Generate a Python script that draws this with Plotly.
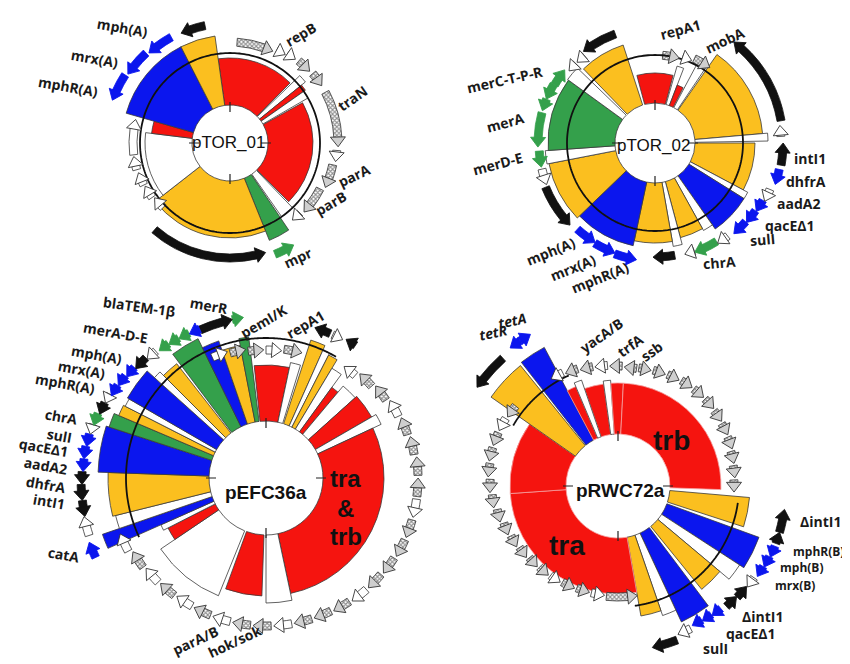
import numpy as np
import plotly.graph_objects as go

W, H = 850, 664

COLORS = {
    "r": "#f5140f",
    "y": "#fbbf1f",
    "b": "#0b16ee",
    "g": "#34a04b",
    "w": "#ffffff",
    "k": "#111111",
    "h": "#ffffff",
}

# wedges: (start deg, end deg, outer radius px, colour) clockwise from 12 o'clock
TOR01_WEDGES = [
    (-8, 45, 85, "r"), (46, 51, 97, "w"), (51, 55, 92, "r"), (55, 60, 90, "w"),
    (61, 135, 83, "r"), (136, 145, 90, "w"), (146, 158, 105, "g"),
    (158, 232, 95, "y"), (232, 277, 85, "w"), (277, 286, 79, "r"),
    (286, 333, 108, "b"), (333, 352, 108, "y"),
]
TOR02_WEDGES = [
    (-15, 15, 70, "r"), (16, 21, 80, "w"), (21, 27, 62, "r"), (28, 34, 90, "w"),
    (35, 85, 108, "y"), (85, 89, 113, "w"), (90, 118, 100, "y"), (118, 122, 105, "w"),
    (122, 145, 105, "b"), (145, 151, 100, "w"), (151, 165, 98, "y"), (165, 170, 105, "w"),
    (170, 192, 100, "y"), (192, 226, 105, "b"), (226, 259, 108, "y"), (259, 266, 110, "w"),
    (266, 306, 107, "g"), (306, 314, 108, "w"), (316, 342, 103, "y"),
]
EFC_WEDGES = [
    (-6, 12, 113, "r"), (12, 17, 118, "w"), (18, 24, 145, "y"), (24, 27, 140, "w"),
    (27, 31, 138, "y"), (31, 36, 128, "w"), (36, 40, 112, "r"), (40, 48, 120, "w"),
    (48, 60, 122, "r"), (60, 65, 127, "w"), (65, 168, 118, "r"), (168, 180, 125, "w"),
    (182, 200, 118, "r"), (202, 236, 127, "w"), (236, 243, 110, "r"), (243, 246, 115, "w"),
    (246, 251, 173, "b"), (251, 256, 155, "w"), (256, 272, 158, "y"), (272, 288, 168, "b"),
    (288, 293, 165, "g"), (293, 297, 160, "y"), (297, 300, 158, "w"), (300, 312, 160, "b"),
    (312, 315, 150, "w"), (315, 322, 145, "y"), (323, 334, 155, "g"), (334, 341, 145, "b"),
    (341, 349, 135, "y"), (349, 353, 142, "g"),
]
RWC_WEDGES = [
    (341, 352, 103, "r"), (352, 356, 106, "w"), (356, 363, 103, "r"), (3, 92, 103, "r"),
    (95, 108, 132, "y"), (110, 123, 150, "b"), (123, 130, 145, "w"), (130, 141, 133, "y"),
    (143, 155, 150, "b"), (155, 161, 137, "w"), (161, 170, 132, "y"), (170, 266, 108, "r"),
    (266, 305, 108, "r"), (305, 321, 155, "y"), (322, 332, 157, "b"), (332, 337, 108, "r"),
    (337, 341, 112, "w"),
]

# genes: (start deg, end deg, radius px, kind, direction +1 clockwise / -1 anticlockwise)
TOR01_GENES = [
    (4, 25, 101, "h", 1), (27, 32, 104, "w", 1), (33, 38, 106, "w", 1), (40, 48, 107, "h", 1),
    (50, 58, 108, "h", 1), (62, 92, 108, "h", 1), (94, 100, 107, "w", 1), (102, 115, 105, "h", 1),
    (117, 133, 101, "h", 1), (135, 141, 99, "w", 1), (148, 158, 120, "g", -1),
    (162, 221, 115, "k", -1), (226, 234, 93, "w", 1), (235, 243, 95, "w", 1),
    (244, 252, 96, "w", 1), (254, 262, 97, "w", 1), (263, 284, 97, "w", 1),
    (290, 303, 125, "b", -1), (304, 317, 123, "b", -1), (318, 331, 121, "b", -1),
    (336, 348, 120, "k", -1),
]
TOR02_GENES = [
    (5, 16, 88, "h", 1), (18, 24, 90, "w", 1), (25, 36, 93, "h", 1), (38, 80, 128, "k", -1),
    (82, 87, 126, "w", -1), (90, 100, 128, "k", -1), (102, 109, 127, "b", 1),
    (112, 118, 124, "w", 1), (118, 124, 122, "b", 1), (124, 131, 121, "b", 1),
    (131, 139, 120, "b", 1), (142, 148, 118, "w", 1), (148, 160, 116, "g", 1),
    (160, 165, 115, "w", 1), (170, 181, 114, "k", 1), (189, 200, 118, "b", -1),
    (200, 211, 117, "b", -1), (211, 222, 116, "b", -1), (226, 248, 118, "k", -1),
    (249, 257, 116, "w", -1), (258, 266, 116, "g", -1), (268, 285, 117, "g", -1),
    (286, 292, 117, "g", -1), (292, 300, 117, "g", -1), (300, 309, 116, "g", 1),
    (310, 315, 112, "w", -1), (316, 321, 112, "w", -1), (322, 340, 116, "k", -1),
]
EFC_GENES = [
    (-24, -17, 132, "w", 1), (-16, -9, 130, "h", 1), (-8, -1, 128, "h", 1), (0, 7, 128, "w", 1),
    (8, 16, 130, "h", 1), (18, 24, 158, "k", -1), (25, 29, 158, "w", 1), (30, 34, 160, "k", -1),
    (35, 41, 136, "w", -1), (42, 49, 140, "h", -1), (50, 57, 143, "h", -1), (58, 65, 146, "w", -1),
    (66, 73, 148, "h", -1), (74, 81, 150, "h", -1), (82, 89, 152, "h", -1), (90, 97, 152, "h", -1),
    (98, 105, 152, "w", 1), (106, 113, 152, "h", 1), (114, 121, 152, "h", 1),
    (122, 129, 151, "h", 1), (130, 137, 150, "h", 1), (138, 145, 150, "w", 1),
    (146, 153, 149, "h", 1), (154, 161, 148, "h", 1), (162, 169, 148, "h", 1),
    (170, 177, 148, "w", 1), (178, 185, 148, "h", 1), (186, 193, 148, "h", 1),
    (194, 201, 148, "w", 1), (202, 209, 148, "h", 1), (210, 217, 148, "w", 1),
    (218, 225, 149, "h", 1), (226, 233, 150, "w", 1), (234, 241, 152, "h", 1),
    (242, 249, 156, "w", 1),
    (245, 250, 188, "b", 1), (252, 258, 186, "w", 1), (258, 263, 185, "k", -1),
    (263, 268, 185, "k", -1), (268, 272, 184, "k", -1), (272, 276, 183, "b", -1),
    (276, 280, 183, "b", -1), (280, 284, 182, "b", -1), (284, 287, 181, "w", -1),
    (287, 291, 180, "g", -1), (291, 295, 178, "k", -1), (295, 298, 177, "w", -1),
    (298, 302, 175, "b", -1), (302, 306, 174, "b", -1), (306, 310, 172, "b", -1),
    (310, 315, 170, "k", -1), (315, 319, 168, "w", -1), (320, 324, 166, "g", -1),
    (324, 328, 165, "g", -1), (328, 332, 164, "g", -1), (332, 336, 163, "b", -1),
    (336, 348, 162, "k", 1), (348, 352, 162, "g", 1),
]
RWC_GENES = [
    (328, 334, 126, "w", -1), (335, 341, 124, "h", -1), (342, 348, 122, "h", -1),
    (349, 355, 121, "w", -1), (356, 362, 120, "h", -1), (3, 9, 119, "h", -1),
    (10, 16, 120, "h", 1), (17, 23, 121, "h", 1), (24, 30, 122, "h", 1), (31, 37, 123, "h", 1),
    (38, 44, 123, "h", 1), (45, 51, 123, "h", 1), (52, 58, 122, "h", 1), (59, 65, 121, "h", 1),
    (66, 72, 120, "h", 1), (73, 79, 118, "h", 1), (80, 86, 117, "h", 1), (87, 93, 116, "h", 1),
    (98, 106, 168, "k", -1), (106, 110, 168, "k", -1), (111, 115, 168, "b", 1),
    (115, 119, 167, "b", 1), (119, 123, 166, "b", 1), (124, 128, 164, "w", 1),
    (128, 133, 163, "k", -1), (133, 138, 162, "k", -1), (140, 144, 160, "b", 1),
    (144, 148, 159, "b", 1), (148, 152, 158, "b", 1), (153, 158, 160, "w", 1),
    (159, 168, 165, "k", 1),
    (170, 186, 111, "h", -1), (187, 194, 110, "w", -1), (195, 202, 110, "h", -1),
    (203, 210, 111, "h", -1), (211, 217, 112, "w", -1), (218, 224, 113, "h", -1),
    (225, 231, 114, "h", -1), (232, 238, 116, "h", -1), (239, 245, 118, "h", -1),
    (246, 252, 120, "h", -1), (253, 259, 123, "h", -1), (260, 266, 126, "h", -1),
    (267, 273, 128, "h", -1), (274, 280, 130, "h", -1), (281, 287, 131, "h", -1),
    (288, 294, 131, "h", -1), (295, 301, 131, "w", -1), (302, 308, 130, "h", -1),
    (305, 318, 172, "k", -1), (322, 326, 175, "b", -1), (326, 330, 175, "b", 1),
]

# centre px, hole radius, outer range, black ring radius, ring arcs (deg)
PLASMIDS = [
    dict(name="pTOR_01", center=(222, 135), hole=38, rmax=135, ring=90, arcs=[(0, 360)],
         wedges=TOR01_WEDGES, genes=TOR01_GENES, soft_red=False),
    dict(name="pTOR_02", center=(647, 135), hole=40, rmax=135, ring=88, arcs=[(0, 360)],
         wedges=TOR02_WEDGES, genes=TOR02_GENES, soft_red=False),
    dict(name="pEFC36a", center=(258, 470), hole=57, rmax=194, ring=140, arcs=[(245, 390)],
         wedges=EFC_WEDGES, genes=EFC_GENES, soft_red=False),
    dict(name="pRWC72a", center=(610, 478), hole=52, rmax=186, ring=121, arcs=[(98, 172), (300, 336)],
         wedges=RWC_WEDGES, genes=RWC_GENES, soft_red=True),
]

# labels: (text, x px, y px, angle, size)
GENE_LABELS = [
    ("mph(A)", 114, 19, 10, 14), ("mrx(A)", 87, 50, 10, 14), ("mphR(A)", 60, 78, 10, 14),
    ("repB", 292, 26, -30, 14), ("traN", 344, 90, -35, 14), ("parA", 346, 167, -25, 14),
    ("parB", 322, 195, -30, 14), ("mpr", 290, 249, -25, 14),
    ("repA1", 672, 22, -15, 14), ("mobA", 716, 32, -25, 14), ("merC-T-P-R", 497, 71, -13, 14),
    ("merA", 497, 114, -15, 14), ("merD-E", 490, 155, -15, 14), ("intI1", 802, 150, 0, 14),
    ("dhfrA", 798, 173, 0, 14), ("aadA2", 790, 195, 0, 14), ("qacEΔ1", 782, 217, 0, 14),
    ("sulI", 754, 231, -5, 14), ("chrA", 711, 254, -5, 14), ("mph(A)", 542, 243, -22, 14),
    ("mrx(A)", 565, 259, -22, 14), ("mphR(A)", 592, 270, -22, 14),
    ("blaTEM-1β", 131, 298, 8, 14), ("merR", 201, 297, 10, 14), ("pemI/K", 255, 313, -30, 14),
    ("repA1", 297, 317, -30, 14), ("merA-D-E", 107, 324, 10, 14), ("mph(A)", 88, 347, 10, 14),
    ("mrx(A)", 74, 361, 10, 14), ("mphR(A)", 57, 375, 10, 14), ("chrA", 53, 408, 10, 14),
    ("sulI", 51, 427, 10, 14), ("qacEΔ1", 36, 439, 10, 14), ("aadA2", 37, 457, 10, 14),
    ("dhfrA", 38, 476, 10, 14), ("intI1", 41, 493, 10, 14), ("catA", 56, 546, 10, 14),
    ("parA/B", 187, 632, -25, 14), ("hok/sok", 226, 633, -25, 14),
    ("<i>tetA</i>", 504, 312, -12, 14), ("<i>tetR</i>", 485, 324, -12, 14),
    ("yacA/B", 593, 327, -35, 14), ("trfA", 622, 337, -35, 14), ("ssb", 643, 343, -35, 14),
    ("ΔintI1", 812, 513, 0, 14), ("mphR(B)", 810, 543, 0, 12), ("mph(B)", 793, 559, 0, 12),
    ("mrx(B)", 787, 577, 0, 12), ("ΔintI1", 754, 608, 0, 14), ("qacEΔ1", 743, 625, 0, 14),
    ("sulI", 707, 640, 0, 14),
]
CENTER_LABELS = [
    ("pTOR_01", 220, 135, 17, False), ("pTOR_02", 645, 137, 17, False),
    ("pEFC36a", 258, 484, 19, True), ("pRWC72a", 612, 482, 19, True),
    ("tra", 337, 470, 24, True), ("&", 337, 501, 24, True), ("trb", 338, 528, 24, True),
    ("trb", 663, 432, 28, True), ("tra", 559, 537, 28, True),
]

HEAD_PX = 13
BAND = 8


def span(s, e):
    if e < s:
        e += 360
    return s, e


def wedge_trace(p, polar):
    th, wd, rr, cols, edges = [], [], [], [], []
    for s, e, r, c in p["wedges"]:
        s, e = span(s, e)
        th.append((s + e) / 2)
        wd.append(e - s)
        rr.append(r - p["hole"])
        cols.append(COLORS[c])
        edges.append("#f4a0a0" if (p["soft_red"] and c == "r") else "#3a3a3a")
    return go.Barpolar(
        theta=th, width=wd, r=rr, base=[p["hole"]] * len(th),
        marker=dict(color=cols, line=dict(color=edges, width=0.8)),
        subplot=polar, hoverinfo="skip",
    )


def gene_traces(p, polar):
    traces = []
    heads = {"th": [], "r": [], "ang": [], "fill": [], "edge": []}
    bands = {}
    for s, e, r, kind, d in p["genes"]:
        s, e = span(s, e)
        hd = np.degrees(HEAD_PX / r)
        if d > 0:
            b0, b1, ht, ang = s, e - hd * 0.7, e - hd * 0.5, e - hd * 0.5 + 90
        else:
            b0, b1, ht, ang = s + hd * 0.7, e, s + hd * 0.5, s + hd * 0.5 - 90
        bands.setdefault(kind, []).append(((b0 + b1) / 2, max(b1 - b0, 0.5), r))
        heads["th"].append(ht)
        heads["r"].append(r)
        heads["ang"].append(ang)
        heads["fill"].append("#cfcfcf" if kind == "h" else COLORS[kind])
        heads["edge"].append("#333333" if kind in "hw" else COLORS[kind])
    for kind, items in bands.items():
        marker = dict(color=COLORS[kind],
                      line=dict(color="#333333" if kind in "hw" else COLORS[kind], width=0.8))
        if kind == "h":
            marker["pattern"] = dict(shape="x", size=3, fgcolor="#222222",
                                     bgcolor="#ffffff", solidity=0.6)
        traces.append(go.Barpolar(
            theta=[i[0] for i in items], width=[i[1] for i in items],
            r=[BAND] * len(items), base=[i[2] - BAND / 2 for i in items],
            marker=marker, subplot=polar, hoverinfo="skip",
        ))
    traces.append(go.Scatterpolar(
        theta=heads["th"], r=heads["r"], mode="markers",
        marker=dict(symbol="triangle-up", size=HEAD_PX, angle=heads["ang"],
                    color=heads["fill"], line=dict(color=heads["edge"], width=0.9)),
        subplot=polar, hoverinfo="skip",
    ))
    return traces


def ring_trace(p, polar):
    th, rr = [], []
    for a0, a1 in p["arcs"]:
        t = np.linspace(a0, a1, 240)
        th += list(t) + [None]
        rr += [p["ring"]] * len(t) + [None]
    return go.Scatterpolar(theta=th, r=rr, mode="lines",
                           line=dict(color="#111111", width=1.8),
                           subplot=polar, hoverinfo="skip", connectgaps=False)


def tick_trace(p, polar):
    th, rr = [], []
    for a in (0, 90, 180, 270):
        th += [a, a, None]
        rr += [p["hole"] - 7, p["hole"] + 3, None]
    return go.Scatterpolar(theta=th, r=rr, mode="lines",
                           line=dict(color="#222222", width=1.2),
                           subplot=polar, hoverinfo="skip")


fig = go.Figure()
layout = {}
for i, p in enumerate(PLASMIDS):
    polar = "polar" if i == 0 else f"polar{i + 1}"
    cx, cy = p["center"]
    R = p["rmax"]
    layout[polar] = dict(
        domain=dict(x=[(cx - R) / W, (cx + R) / W], y=[1 - (cy + R) / H, 1 - (cy - R) / H]),
        bgcolor="rgba(0,0,0,0)",
        angularaxis=dict(visible=False, rotation=90, direction="clockwise"),
        radialaxis=dict(visible=False, range=[0, R]),
        barmode="overlay", bargap=0,
    )
    fig.add_trace(wedge_trace(p, polar))
    fig.add_trace(ring_trace(p, polar))
    for t in gene_traces(p, polar):
        fig.add_trace(t)
    fig.add_trace(tick_trace(p, polar))

annotations = []
for text, x, y, ang, size in GENE_LABELS:
    annotations.append(dict(
        x=x / W, y=1 - y / H, xref="paper", yref="paper", text=f"<b>{text}</b>",
        textangle=ang, showarrow=False, xanchor="center", yanchor="middle",
        font=dict(family="Open Sans", size=size, color="#1a1a1a"),
    ))
for text, x, y, size, bold in CENTER_LABELS:
    annotations.append(dict(
        x=x / W, y=1 - y / H, xref="paper", yref="paper",
        text=f"<b>{text}</b>" if bold else text, showarrow=False,
        xanchor="center", yanchor="middle",
        font=dict(family="Liberation Sans", size=size, color="#111111"),
    ))

fig.update_layout(
    width=W, height=H, margin=dict(l=0, r=0, t=0, b=0),
    paper_bgcolor="white", plot_bgcolor="white", showlegend=False,
    annotations=annotations, **layout,
)

fig.write_html("out.html")
